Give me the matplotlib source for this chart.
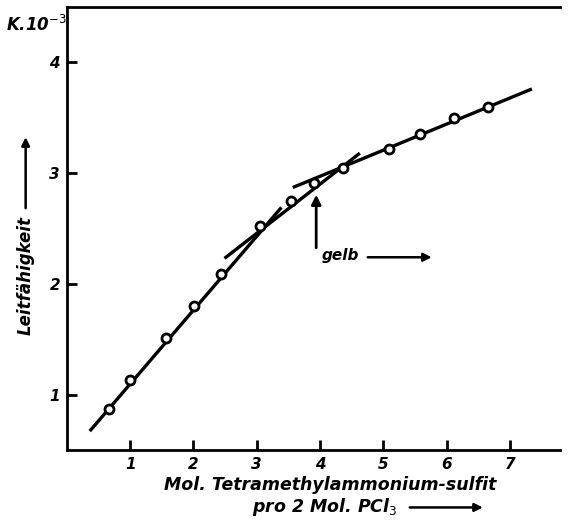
import matplotlib
matplotlib.use("Agg")
import matplotlib.pyplot as plt

# measured points
x_pts = [0.66, 0.99, 1.57, 2.01, 2.44, 3.05, 3.54, 3.90, 4.36, 5.09, 5.58, 6.12, 6.65]
y_pts = [0.87, 1.13, 1.51, 1.80, 2.09, 2.52, 2.75, 2.91, 3.05, 3.22, 3.35, 3.50, 3.60]

# fitted straight lines (endpoints)
line_low_x = [0.36, 3.39]
line_low_y = [0.67, 2.69]
line_mid_x = [2.49, 4.63]
line_mid_y = [2.23, 3.18]
line_up_x = [3.57, 7.35]
line_up_y = [2.87, 3.76]

x_ticks = [1, 2, 3, 4, 5, 6, 7]
y_ticks = [1, 2, 3, 4]

fig = plt.figure(figsize=(5.7, 5.21), dpi=100)
ax = fig.add_axes([0.1175, 0.1363, 0.8645, 0.8503])

fkw = dict(fontweight="bold", fontstyle="italic", family="DejaVu Sans")

for lx, ly in [(line_low_x, line_low_y), (line_mid_x, line_mid_y), (line_up_x, line_up_y)]:
    ax.plot(lx, ly, color="black", lw=2.4, solid_capstyle="butt", zorder=2)

ax.plot(x_pts, y_pts, "o", ms=6.5, mfc="white", mec="black", mew=2.0, zorder=3)

ax.set_xlim(0, 7.79)
ax.set_ylim(0.5, 4.5)
ax.set_xticks(x_ticks)
ax.set_yticks(y_ticks)
ax.set_xticklabels([str(t) for t in x_ticks], **fkw, fontsize=11)
ax.set_yticklabels([str(t) for t in y_ticks], **fkw, fontsize=11)
ax.tick_params(direction="in", length=7, width=2, pad=5)
ax.spines["right"].set_visible(False)
for s in ["left", "bottom", "top"]:
    ax.spines[s].set_linewidth(2)

# gelb annotation
ax.annotate("", xy=(3.94, 2.83), xytext=(3.94, 2.30),
            arrowprops=dict(arrowstyle="-|>", color="black", lw=2, mutation_scale=14))
ax.text(4.03, 2.26, "gelb", fontsize=11, **fkw, va="center", ha="left")
ax.annotate("", xy=(5.81, 2.24), xytext=(4.71, 2.24),
            arrowprops=dict(arrowstyle="-|>", color="black", lw=1.8, mutation_scale=12))

# y label and unit
fig.text(0.01, 0.952, "K.10$^{-3}$", fontsize=12, **fkw, ha="left", va="center")
fig.text(0.045, 0.472, "Leitfähigkeit", rotation=90, fontsize=12, **fkw, ha="center", va="center")
fig.add_artist(matplotlib.patches.FancyArrowPatch((0.045, 0.595), (0.045, 0.742), transform=fig.transFigure,
               arrowstyle="-|>", color="black", lw=1.8, mutation_scale=12))

# x label
fig.text(0.579, 0.069, "Mol. Tetramethylammonium-sulfit", fontsize=12.5, **fkw, ha="center", va="center")
fig.text(0.570, 0.026, "pro 2 Mol. PCl$_3$", fontsize=12.5, **fkw, ha="center", va="center")
fig.add_artist(matplotlib.patches.FancyArrowPatch((0.714, 0.026), (0.852, 0.026), transform=fig.transFigure,
               arrowstyle="-|>", color="black", lw=1.8, mutation_scale=12))

fig.savefig("out.png", dpi=100)
